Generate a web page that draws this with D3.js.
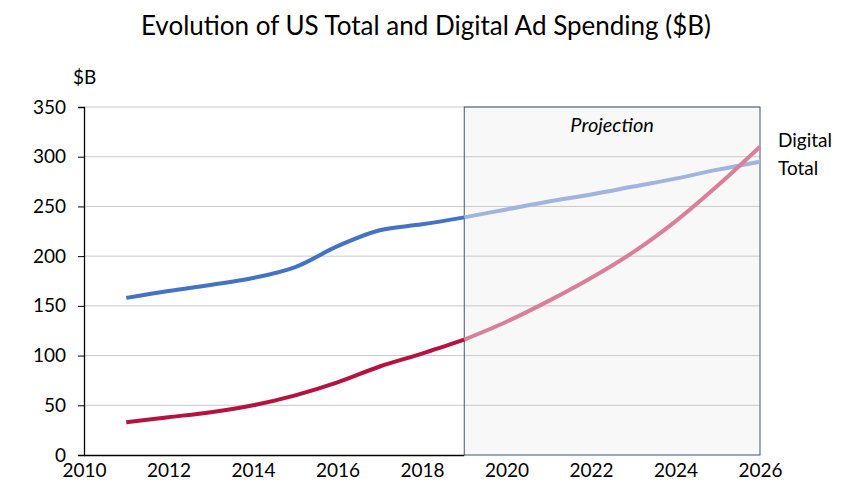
<!DOCTYPE html>
<html><head><meta charset="utf-8">
<script src="https://cdn.jsdelivr.net/npm/d3@7"></script>
<style>body{margin:0;background:#fff}svg{display:block}text{font-family:Lato,"Open Sans",sans-serif}</style>
</head><body><svg id="c" width="844" height="495"></svg>
<script>
const years = [2011,2012,2013,2014,2015,2016,2017,2018,2019];
const totalHist = [158,165,171,178,189,210,226,232,239];
const digitalHist = [33,38,43,50,60,73,89,102,116];
const projYears = [2019,2020,2021,2022,2023,2024,2025,2026];
const totalProj = [239,247,255,262,270,278,287,295];
const digitalProj = [116,134,155,178,204,235,271,310];
const xTicks = [2010,2012,2014,2016,2018,2020,2022,2024,2026];
const yTicks = [0,50,100,150,200,250,300,350];
const projStart = 2019, projEnd = 2026;

const svg = d3.select("#c");
const x = d3.scaleLinear().domain([2010,2026]).range([84,760]);
const y = d3.scaleLinear().domain([0,350]).range([455,107]);
const FS = 19;

svg.append("text").attr("x",426).attr("y",35).attr("text-anchor","middle")
  .attr("font-size",26).attr("fill","#000").text("Evolution of US Total and Digital Ad Spending ($B)");

svg.append("rect").attr("x",x(projStart)).attr("y",y(350)).attr("width",x(projEnd)-x(projStart))
  .attr("height",y(0)-y(350)).attr("fill","#f8f8f9").attr("stroke","none");

svg.append("g").selectAll("line").data(yTicks.filter(d=>d>0)).join("line")
  .attr("x1",x(2010)).attr("x2",x(2026)).attr("y1",d=>y(d)).attr("y2",d=>y(d))
  .attr("stroke","#c9c9c9").attr("stroke-width",1);

svg.append("rect").attr("x",x(projStart)).attr("y",y(350)).attr("width",x(projEnd)-x(projStart))
  .attr("height",y(0)-y(350)).attr("fill","none").attr("stroke","#44546a").attr("stroke-width",1);

svg.append("text").attr("x",(x(projStart)+x(projEnd))/2).attr("y",132).attr("text-anchor","middle")
  .attr("font-size",20).attr("font-style","italic").attr("fill","#000").text("Projection");

const yAxis = svg.append("g").attr("transform",`translate(${x(2010)},0)`)
  .call(d3.axisLeft(y).tickValues(yTicks).tickSize(6).tickPadding(12));
const xAxis = svg.append("g").attr("transform",`translate(0,${y(0)})`)
  .call(d3.axisBottom(x).tickValues(xTicks).tickFormat(d3.format("d")).tickSize(0).tickPadding(9));
[yAxis,xAxis].forEach(g=>{
  g.selectAll("path").attr("stroke","#000").attr("stroke-width",1.3);
  g.selectAll("line").attr("stroke","#000");
  g.selectAll("text").attr("font-size",FS).attr("fill","#000").attr("font-family","Lato,'Open Sans',sans-serif");
});
xAxis.select(".domain").attr("d",`M${x(2010)},0.5H${x(projStart)}`);

svg.append("text").attr("x",73).attr("y",84).attr("font-size",FS).attr("fill","#000").text("$B");

const line = d3.line().x(d=>x(d[0])).y(d=>y(d[1])).curve(d3.curveCatmullRom.alpha(0.5));
function draw(xs, vs, color){
  svg.append("path").datum(xs.map((v,i)=>[v,vs[i]])).attr("d",line)
    .attr("fill","none").attr("stroke",color).attr("stroke-width",4).attr("stroke-linecap","butt");
}
draw(projYears,totalProj,"#a0b4dd");
draw(projYears,digitalProj,"#da7f99");
draw(years,totalHist,"#4472c4");
draw(years,digitalHist,"#b5123f");

svg.append("text").attr("x",778).attr("y",147).attr("font-size",FS).attr("fill","#000").text("Digital");
svg.append("text").attr("x",778).attr("y",175).attr("font-size",FS).attr("fill","#000").text("Total");
</script></body></html>
